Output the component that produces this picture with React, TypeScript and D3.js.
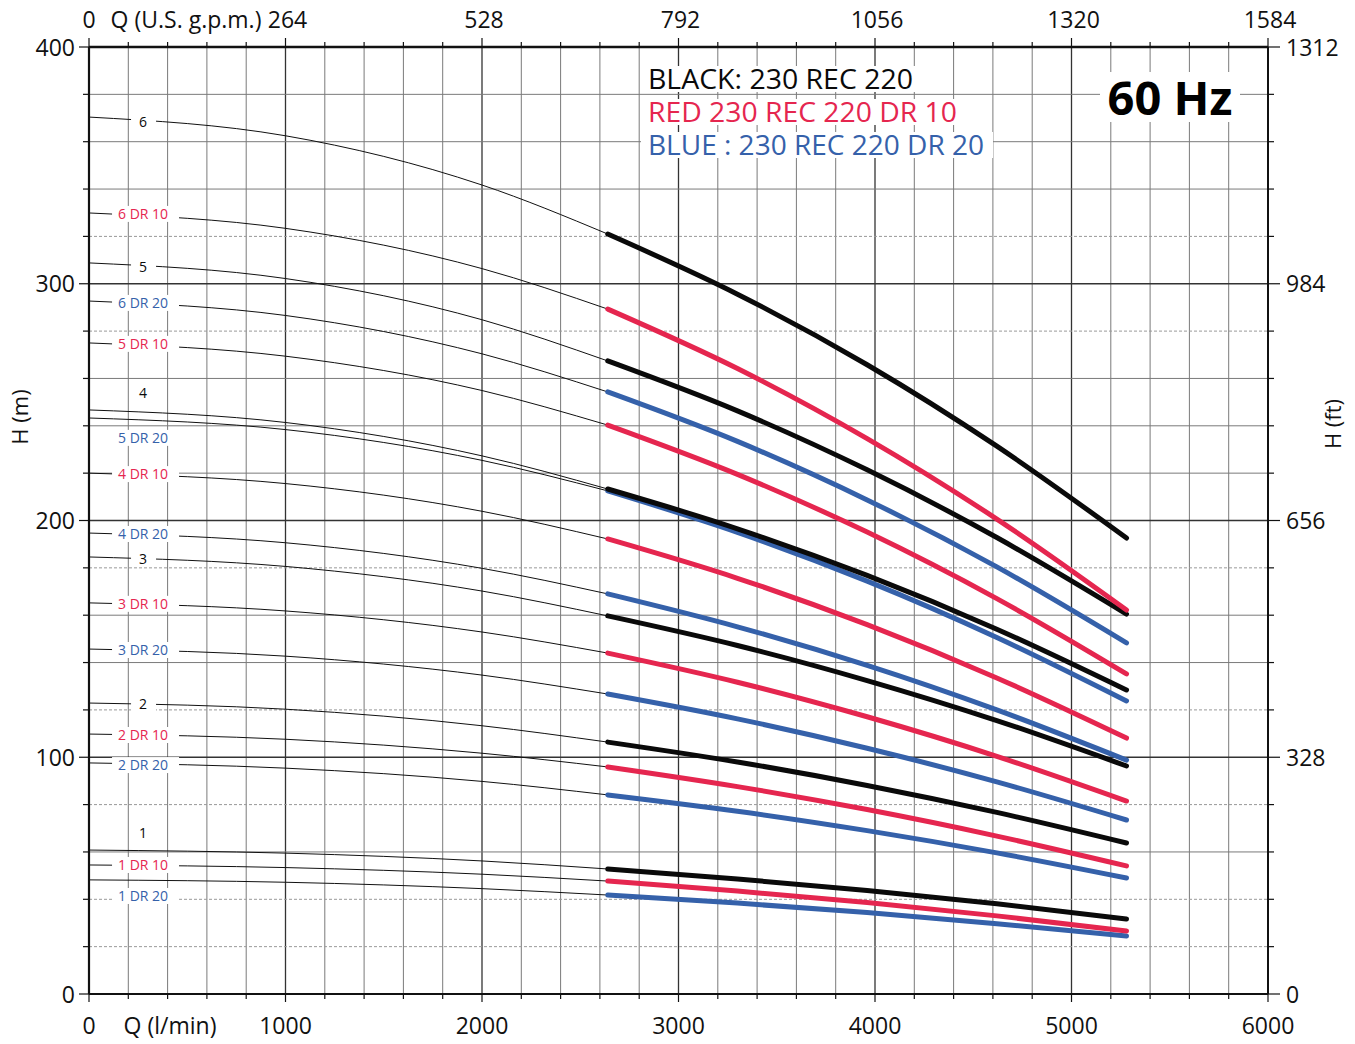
import React from 'react';
import * as d3 from 'd3';

// Flow points (l/min) where heads are read; index 3 (2640) is where the thick part starts
const qPoints = [0, 1000, 2000, 2640, 3300, 3960, 4620, 5280];

const h6 = [370.4, 362.5, 341.7, 321.0, 295.6, 265.8, 231.4, 192.6];
const h6dr10 = [329.9, 323.4, 306.4, 289.3, 264.2, 234.6, 200.6, 162.2];
const h5 = [308.8, 302.2, 284.8, 267.4, 246.3, 221.4, 192.8, 160.5];
const h6dr20 = [292.7, 286.6, 270.4, 254.3, 233.4, 208.7, 180.4, 148.3];
const h5dr10 = [275.0, 269.4, 254.9, 240.3, 219.5, 195.1, 167.0, 135.2];
const h4 = [246.7, 241.4, 227.3, 213.3, 196.5, 176.8, 154.1, 128.4];
const h5dr20 = [243.3, 238.4, 225.4, 212.5, 195.0, 174.4, 150.6, 123.8];
const h4dr10 = [220.0, 215.6, 203.9, 192.2, 175.6, 156.0, 133.5, 108.1];
const h4dr20 = [194.7, 190.6, 179.8, 169.0, 155.1, 138.8, 120.0, 98.8];
const h3 = [184.6, 180.6, 170.2, 159.7, 147.2, 132.4, 115.5, 96.3];
const h3dr10 = [165.2, 161.8, 152.9, 144.0, 131.7, 117.1, 100.4, 81.5];
const h3dr20 = [145.7, 142.7, 134.7, 126.7, 116.2, 103.8, 89.6, 73.5];
const h2 = [122.9, 120.3, 113.3, 106.4, 98.0, 88.1, 76.7, 63.8];
const h2dr10 = [109.8, 107.6, 101.7, 95.9, 87.6, 77.9, 66.7, 54.1];
const h2dr20 = [97.6, 95.4, 89.8, 84.1, 77.2, 69.0, 59.6, 49.0];
const h1 = [60.8, 59.5, 56.2, 52.8, 48.6, 43.7, 38.1, 31.7];
const h1dr10 = [54.5, 53.4, 50.6, 47.7, 43.5, 38.6, 33.0, 26.6];
const h1dr20 = [48.2, 47.2, 44.5, 41.8, 38.4, 34.4, 29.7, 24.5];

const curveNames = ['6', '6 DR 10', '5', '6 DR 20', '5 DR 10', '4', '5 DR 20', '4 DR 10', '4 DR 20', '3', '3 DR 10', '3 DR 20', '2', '2 DR 10', '2 DR 20', '1', '1 DR 10', '1 DR 20'];
const curveKinds = ['black', 'red', 'black', 'blue', 'red', 'black', 'blue', 'red', 'blue', 'black', 'red', 'blue', 'black', 'red', 'blue', 'black', 'red', 'blue'];
const curveHeads = [h6, h6dr10, h5, h6dr20, h5dr10, h4, h5dr20, h4dr10, h4dr20, h3, h3dr10, h3dr20, h2, h2dr10, h2dr20, h1, h1dr10, h1dr20];
// head (m) at which each curve label sits
const labelHeads = [368.3, 329.5, 307.1, 291.9, 274.6, 253.9, 234.9, 219.6, 194.3, 183.8, 164.8, 145.3, 122.5, 109.4, 96.7, 68.0, 54.5, 41.4];

const bottomTicks = [1000, 2000, 3000, 4000, 5000, 6000];
const topTickLabels = ['264', '528', '792', '1056', '1320', '1584'];
const leftTicks = [0, 100, 200, 300, 400];
const rightTickLabels = ['0', '328', '656', '984', '1312'];
const legendLines = ['BLACK: 230 REC 220', 'RED 230 REC 220 DR 10', 'BLUE : 230 REC 220 DR 20'];
const legendKinds = ['black', 'red', 'blue'];
const legendWidths = [265, 309, 336];

const COLORS: Record<string, string> = { black: '#0a0a0a', red: '#e5264f', blue: '#3561aa' };
const FONT = "'Open Sans', 'Noto Sans', sans-serif";

export default function App() {
  const W = 1355, H = 1044;
  const x = d3.scaleLinear().domain([0, 6000]).range([89, 1268]);
  const y = d3.scaleLinear().domain([0, 400]).range([994, 47]);
  const line = d3.line<[number, number]>().x(d => x(d[0])).y(d => y(d[1])).curve(d3.curveMonotoneX);

  const vGrid = d3.range(0, 6001, 200);
  const hGrid = d3.range(0, 401, 20);
  const dotted = new Set([320, 280, 180, 120, 80, 40, 20]);

  const curves = curveHeads.map((hs, i) => {
    const pts: [number, number][] = qPoints.map((q, j) => [q, hs[j]]);
    return { name: curveNames[i], kind: curveKinds[i], thin: pts.slice(0, 4), thick: pts.slice(3), labelH: labelHeads[i] };
  });
  const drawOrder = [...curves].reverse();

  return (
    <svg width={W} height={H} style={{ position: 'absolute', left: 0, top: 0, background: '#fff' }} fontFamily={FONT}>
      <rect x={0} y={0} width={W} height={H} fill="#fff" />
      {/* grid */}
      {vGrid.map(v => (
        <line key={'v' + v} x1={x(v)} x2={x(v)} y1={y(400)} y2={y(0)}
          stroke={v % 1000 === 0 ? '#333' : '#7a7a7a'} strokeWidth={v % 1000 === 0 ? 1.3 : 1} />
      ))}
      {hGrid.map(v => (
        <line key={'h' + v} x1={x(0)} x2={x(6000)} y1={y(v)} y2={y(v)}
          stroke={v % 100 === 0 ? '#333' : dotted.has(v) ? '#999' : '#7a7a7a'}
          strokeWidth={v % 100 === 0 ? 1.3 : 1}
          strokeDasharray={dotted.has(v) ? '3 2' : undefined} />
      ))}

      {/* thin parts */}
      {curves.map(c => (
        <path key={'t' + c.name} d={line(c.thin) || ''} fill="none" stroke="#111" strokeWidth={1} />
      ))}

      {/* curve labels */}
      {curves.map(c => {
        const isDR = c.name.length > 1;
        const cx = x(275);
        const cy = y(c.labelH);
        return (
          <g key={'l' + c.name}>
            <rect x={isDR ? cx - 31 : cx - 12} y={cy - 8} width={isDR ? 67 : 25} height={16} fill="#fff" />
            <text x={cx} y={cy + 5} textAnchor="middle" fontSize={14} fill={COLORS[c.kind]}>{c.name}</text>
          </g>
        );
      })}

      {/* thick parts */}
      {drawOrder.map(c => (
        <path key={'k' + c.name} d={line(c.thick) || ''} fill="none" stroke={COLORS[c.kind]} strokeWidth={5} strokeLinecap="round" />
      ))}

      {/* frame */}
      <line x1={x(0)} x2={x(6000)} y1={y(400)} y2={y(400)} stroke="#111" strokeWidth={2.5} />
      <line x1={x(0)} x2={x(6000)} y1={y(0)} y2={y(0)} stroke="#111" strokeWidth={2} />
      <line x1={x(0)} x2={x(0)} y1={y(400)} y2={y(0)} stroke="#111" strokeWidth={2.2} />
      <line x1={x(6000)} x2={x(6000)} y1={y(400)} y2={y(0)} stroke="#111" strokeWidth={2} />

      {/* ticks */}
      {vGrid.map(v => (
        <g key={'tk' + v}>
          <line x1={x(v)} x2={x(v)} y1={y(400)} y2={y(400) - (v % 1000 === 0 ? 9 : 5)} stroke="#111" strokeWidth={1.2} />
          <line x1={x(v)} x2={x(v)} y1={y(0)} y2={y(0) + (v % 1000 === 0 ? 8 : 5)} stroke="#111" strokeWidth={1.2} />
        </g>
      ))}
      {hGrid.map(v => (
        <g key={'tky' + v}>
          <line x1={x(0)} x2={x(0) - (v % 100 === 0 ? 10 : 6)} y1={y(v)} y2={y(v)} stroke="#111" strokeWidth={1.2} />
          <line x1={x(6000)} x2={x(6000) + (v % 100 === 0 ? 12 : 6)} y1={y(v)} y2={y(v)} stroke="#111" strokeWidth={1.2} />
        </g>
      ))}

      {/* axis labels */}
      {leftTicks.map(v => (
        <text key={'lt' + v} x={75} y={y(v) + 8.5} textAnchor="end" fontSize={23} fill="#111">{v}</text>
      ))}
      {leftTicks.map((v, i) => (
        <text key={'rt' + v} x={1286} y={y(v) + 8.5} textAnchor="start" fontSize={23} fill="#111">{rightTickLabels[i]}</text>
      ))}
      <text x={x(0)} y={1034} textAnchor="middle" fontSize={23} fill="#111">0</text>
      <text x={170} y={1034} textAnchor="middle" fontSize={23} fill="#111">Q (l/min)</text>
      {bottomTicks.map(v => (
        <text key={'bt' + v} x={x(v)} y={1034} textAnchor="middle" fontSize={23} fill="#111">{v}</text>
      ))}
      <text x={x(0)} y={28} textAnchor="middle" fontSize={23} fill="#111">0</text>
      <text x={186} y={28} textAnchor="middle" fontSize={23} fill="#111">Q (U.S. g.p.m.)</text>
      {bottomTicks.map((v, i) => (
        <text key={'tt' + v} x={x(v) + 2} y={28} textAnchor="middle" fontSize={23} fill="#111">{topTickLabels[i]}</text>
      ))}
      <text transform="translate(28,417) rotate(-90)" textAnchor="middle" fontSize={22} fill="#111">H (m)</text>
      <text transform="translate(1341,424) rotate(-90)" textAnchor="middle" fontSize={22} fill="#111">H (ft)</text>

      {/* legend */}
      {legendLines.map((t, i) => (
        <rect key={'lgr' + i} x={641} y={66 + i * 33} width={legendWidths[i] + 16} height={26} fill="#fff" />
      ))}
      {legendLines.map((t, i) => (
        <text key={'lg' + i} x={648} y={89 + i * 33} fontSize={28} textLength={legendWidths[i]} lengthAdjust="spacingAndGlyphs"
          fill={COLORS[legendKinds[i]]}>{t}</text>
      ))}
      <rect x={1100} y={72} width={140} height={50} fill="#fff" />
      <text x={1170} y={115} textAnchor="middle" fontSize={47} fontWeight={700} fill="#000">60 Hz</text>
    </svg>
  );
}
